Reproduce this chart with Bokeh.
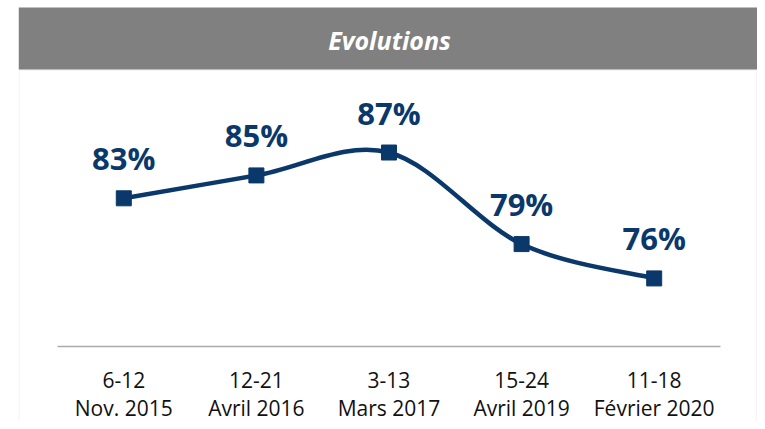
from bokeh.plotting import figure
from bokeh.models import FixedTicker, BoxAnnotation, Label, Range1d, ColumnDataSource
from bokeh.core.properties import value
from bokeh.embed import file_html
from bokeh.resources import INLINE

# ---- data ----
periods = ["6-12\nNov. 2015", "12-21\nAvril 2016", "3-13\nMars 2017",
           "15-24\nAvril 2019", "11-18\nFévrier 2020"]
scores = [83, 85, 87, 79, 76]
labels = ["83%", "85%", "87%", "79%", "76%"]
title_text = "Evolutions"

NAVY = "#0B386A"
W, H = 757, 421
FL = 18  # frame left offset (screen units of annotations are frame-relative in x)

xs = [i + 0.5 for i in range(len(scores))]

p = figure(width=W, height=H, output_backend="svg", toolbar_location=None,
           x_range=Range1d(-0.294, 5.279), y_range=Range1d(63.5, 99.67),
           min_border_left=FL, min_border_right=0, min_border_top=7,
           min_border_bottom=0)
p.outline_line_color = None
p.xgrid.visible = False
p.ygrid.visible = False
p.yaxis.visible = False
p.background_fill_color = "white"
p.border_fill_color = "white"

ax = p.xaxis[0]
ax.fixed_location = 70.02
ax.ticker = FixedTicker(ticks=xs)
ax.major_label_overrides = {x: lab for x, lab in zip(xs, periods)}
ax.bounds = (0, len(scores))
ax.axis_line_color = "#ABABAB"
ax.axis_line_width = 1.5
ax.major_tick_line_color = None
ax.minor_tick_line_color = None
ax.major_label_text_font = "Open Sans"
ax.major_label_text_font_size = "21px"
ax.major_label_text_color = "#111111"
ax.major_label_text_line_height = 1.0
ax.major_label_standoff = 13

# smoothed line (Catmull-Rom -> cubic Bezier) computed from the data
n = len(scores)
x0, y0, x1, y1, cx0, cy0, cx1, cy1 = ([] for _ in range(8))
for i in range(n - 1):
    pm = (xs[max(i - 1, 0)], scores[max(i - 1, 0)])
    pa = (xs[i], scores[i])
    pb = (xs[i + 1], scores[i + 1])
    pn = (xs[min(i + 2, n - 1)], scores[min(i + 2, n - 1)])
    x0.append(pa[0]); y0.append(pa[1]); x1.append(pb[0]); y1.append(pb[1])
    cx0.append(pa[0] + (pb[0] - pm[0]) / 6); cy0.append(pa[1] + (pb[1] - pm[1]) / 6)
    cx1.append(pb[0] - (pn[0] - pa[0]) / 6); cy1.append(pb[1] - (pn[1] - pa[1]) / 6)

p.bezier(x0=x0, y0=y0, x1=x1, y1=y1, cx0=cx0, cy0=cy0, cx1=cx1, cy1=cy1,
         line_color=NAVY, line_width=4.5)

src = ColumnDataSource(dict(x=xs, y=scores, lab=labels))
p.scatter("x", "y", source=src, marker="square", size=15,
          fill_color=NAVY, line_color=NAVY)
p.text("x", "y", text="lab", source=src, y_offset=-40,
       text_align="center", text_baseline="alphabetic",
       text_font=value("Open Sans"), text_font_style="bold",
       text_font_size="31px", text_color=NAVY)

# panel border and header bar (screen units)
p.add_layout(BoxAnnotation(left=18.5 - FL, right=756 - FL, top=H - 69.5, bottom=-20,
                           left_units="screen", right_units="screen",
                           top_units="screen", bottom_units="screen",
                           fill_color=None, fill_alpha=0,
                           line_color="#D9D9D9", line_width=1.5))
p.add_layout(BoxAnnotation(left=18 - FL, right=W + 5, top=H + 10, bottom=H - 69,
                           left_units="screen", right_units="screen",
                           top_units="screen", bottom_units="screen",
                           fill_color="#808080", fill_alpha=1.0,
                           line_color=None))
p.add_layout(Label(x=389 - FL, y=H - 39, x_units="screen", y_units="screen",
                   text=title_text, text_align="center", text_baseline="middle",
                   text_font="Open Sans", text_font_style="bold italic",
                   text_font_size="25px", text_color="white"))

open("out.html", "w").write(file_html(p, INLINE))
